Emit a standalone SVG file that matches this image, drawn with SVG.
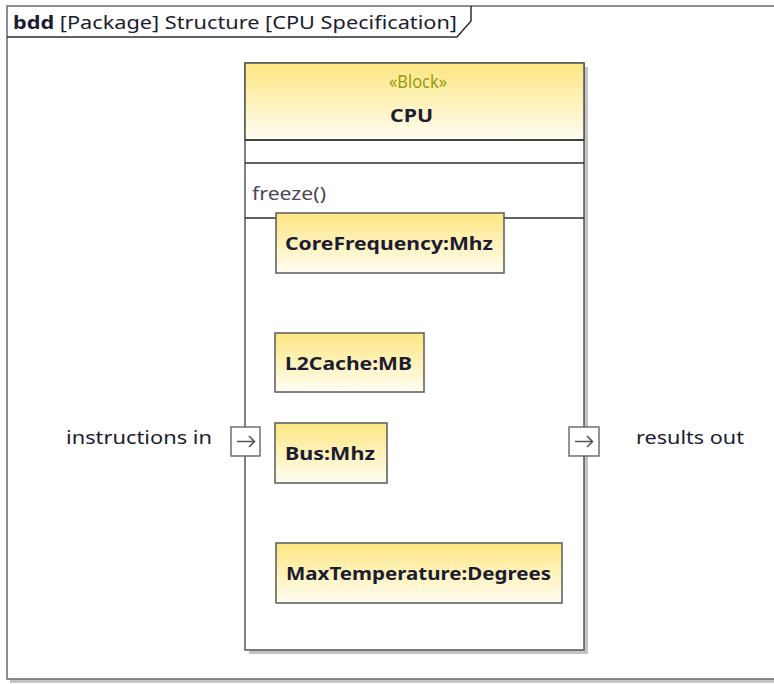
<svg xmlns="http://www.w3.org/2000/svg" width="774" height="684" viewBox="0 0 774 684">
<defs>
<linearGradient id="yel" x1="0" y1="0" x2="0" y2="1">
<stop offset="0" stop-color="#fce681"/>
<stop offset="1" stop-color="#fffdf2"/>
</linearGradient>
<style>
.t{font-family:"Noto Sans","Open Sans","Liberation Sans",sans-serif;font-size:17.5px;fill:#1c1c30}
.b{font-weight:bold}
.part{fill:url(#yel);stroke:#5a5a5a;stroke-width:1.5}
.shadow{fill:#c4c4c4}
.line{stroke:#2e2e2e;stroke-width:1.5;fill:none}
.port{fill:#fff;stroke:#5a5a5a;stroke-width:1.3}
.arr{stroke:#555;stroke-width:1.6;fill:none}
</style>
</defs>
<rect width="774" height="684" fill="#fff"/>
<g id="frame">
<rect x="10" y="9" width="780" height="674" class="shadow"/>
<rect x="7" y="6" width="790" height="673" fill="#fff" stroke="#6a6a6a" stroke-width="1.5"/>
<path d="M7 37 H457 L471 21 V6" class="line" stroke="#6a6a6a"/>
<text class="t" x="13" y="29" textLength="444" lengthAdjust="spacingAndGlyphs"><tspan class="b">bdd</tspan> [Package] Structure [CPU Specification]</text>
</g>
<g id="cpu">
<rect x="249" y="67" width="339" height="587" class="shadow"/>
<rect x="245" y="63" width="339" height="587" fill="#fff" stroke="#555" stroke-width="1.5"/>
<rect x="245" y="63" width="339" height="77" fill="url(#yel)" stroke="#555" stroke-width="1.5"/>
<line x1="245" y1="140" x2="584" y2="140" class="line"/>
<line x1="245" y1="163" x2="584" y2="163" class="line"/>
<line x1="245" y1="218" x2="584" y2="218" class="line"/>
<text class="t" x="418" y="88" text-anchor="middle" style="fill:#9a9a10" textLength="58" lengthAdjust="spacingAndGlyphs">«Block»</text>
<text class="t b" x="411.5" y="122" text-anchor="middle" textLength="43" lengthAdjust="spacingAndGlyphs">CPU</text>
<text class="t" x="252" y="200" style="fill:#4a4658" textLength="74" lengthAdjust="spacingAndGlyphs">freeze()</text>
</g>
<g id="corefreq">
<rect x="276" y="213" width="228" height="60" class="part"/>
<text class="t b" x="285" y="250" textLength="208" lengthAdjust="spacingAndGlyphs">CoreFrequency:Mhz</text>
</g>
<g id="l2cache">
<rect x="275" y="333" width="149" height="59" class="part"/>
<text class="t b" x="285" y="370" textLength="127" lengthAdjust="spacingAndGlyphs">L2Cache:MB</text>
</g>
<g id="bus">
<rect x="275" y="423" width="112" height="60" class="part"/>
<text class="t b" x="285" y="460" textLength="90" lengthAdjust="spacingAndGlyphs">Bus:Mhz</text>
</g>
<g id="maxtemp">
<rect x="276" y="543" width="286" height="60" class="part"/>
<text class="t b" x="286" y="580" textLength="265" lengthAdjust="spacingAndGlyphs">MaxTemperature:Degrees</text>
</g>
<g id="port-in">
<rect x="231" y="427" width="29" height="29" class="port"/>
<path d="M237 441.5 H254 M249 436 L254.5 441.5 L249 447" class="arr"/>
<text class="t" x="66" y="444" textLength="146" lengthAdjust="spacingAndGlyphs">instructions in</text>
</g>
<g id="port-out">
<rect x="569" y="427" width="30" height="29" class="port"/>
<path d="M575 441.5 H592 M587 436 L592.5 441.5 L587 447" class="arr"/>
<text class="t" x="636" y="444" textLength="108" lengthAdjust="spacingAndGlyphs">results out</text>
</g>
<g id="connectors"></g>
</svg>
